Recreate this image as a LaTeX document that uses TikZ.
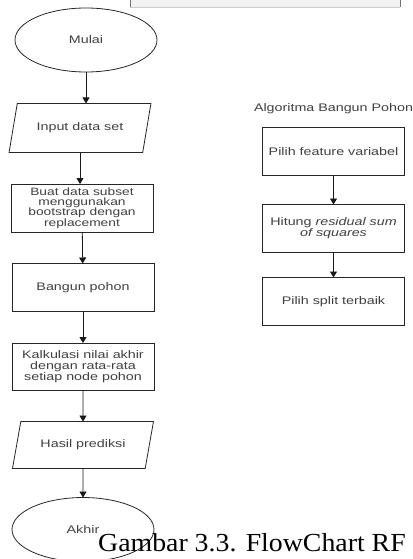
\documentclass[tikz,border=0pt]{standalone}
\usepackage{fontspec}
\setmainfont{Liberation Sans}
\newfontfamily\chartfont[FakeStretch=1.3]{Liberation Sans}
\newfontfamily\captionfont[FakeStretch=1.07]{Liberation Serif}
\usetikzlibrary{shapes.geometric, arrows.meta, positioning}

\begin{document}
\begin{tikzpicture}[
  x=1pt, y=-1pt,
  node distance=31.5pt and 1cm,
  every node/.style={font=\chartfont\fontsize{11}{11}\selectfont, text=black!75},
  box/.style={rectangle, draw=black!85, line width=0.8pt, minimum width=142pt,
              minimum height=48pt, align=center, inner sep=1pt, outer sep=0pt},
  term/.style={ellipse, draw=black!85, line width=0.8pt, minimum width=142pt,
               minimum height=64pt, inner sep=0pt, outer sep=0pt},
  io/.style={trapezium, trapezium left angle=61, trapezium right angle=119,
             trapezium stretches=true, draw=black!85, line width=0.8pt,
             minimum width=142pt, minimum height=49pt, inner sep=0pt, outer sep=0pt},
  arr/.style={-{Triangle[length=6pt, width=7pt]}, line width=0.8pt, black!90}
]
\useasboundingbox (0,0) rectangle (412,559);

% potongan kotak di atas
\fill[black!5] (130,0) rectangle (400,7);
\draw[black!20] (130,7) -- (400,7);
\draw[black!55, line width=0.8pt] (130,0) -- (130,7) (400,0) -- (400,7);

% alur utama
\node[term] (mulai) at (86,40) {Mulai};
\node[io, below=of mulai, xshift=-6pt]  (input)  {Input data set};
\node[box, below=of input, xshift=2pt, font=\chartfont\fontsize{10.6}{10.4}\selectfont]
      (subset) {Buat data subset\\menggunakan\\bootstrap dengan\\replacement};
\node[box, below=of subset, xshift=1pt] (bangun) {Bangun pohon};
\node[box, below=of bangun, minimum height=47pt] (kalk) {Kalkulasi nilai akhir\\dengan rata-rata\\setiap node pohon};
\node[io, below=of kalk, minimum height=47pt] (hasil) {Hasil prediksi};
\node[term, below=29pt of hasil] (akhir) {Akhir};

\draw[arr] (mulai)        -- (mulai |- input.north);
\draw[arr] (input.south)  -- (input.south |- subset.north);
\draw[arr] (subset)       -- (bangun);
\draw[arr] (bangun)       -- (kalk);
\draw[arr] (kalk)         -- (hasil);
\draw[arr] (hasil)        -- (akhir);

% algoritma bangun pohon
\node[box] (fitur) at (333.5,151.5) {Pilih feature variabel};
\node[above=14pt of fitur, inner sep=0pt] (judul) {Algoritma Bangun Pohon};
\node[box, below=29pt of fitur] (rss)   {Hitung \textit{residual sum}\\\textit{of squares}};
\node[box, below=25pt of rss]   (split) {Pilih split terbaik};

\draw[arr] (fitur) -- (rss);
\draw[arr] (rss)   -- (split);

\node[font=\captionfont\fontsize{26}{26}\selectfont, text=black, anchor=base west,
      inner sep=0pt] (caption) at (98,551) {Gambar 3.3. FlowChart RF};
\end{tikzpicture}
\end{document}
